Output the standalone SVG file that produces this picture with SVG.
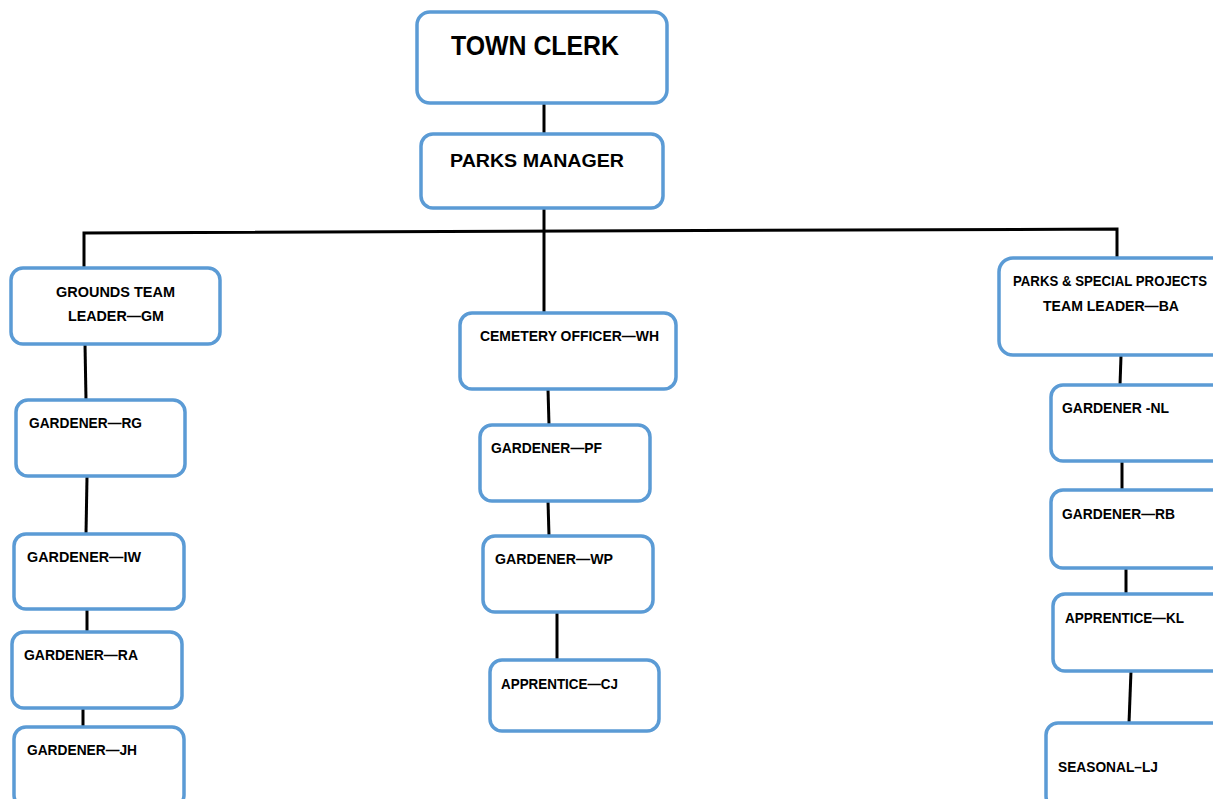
<svg xmlns="http://www.w3.org/2000/svg" width="1213" height="799" viewBox="0 0 1213 799">
<style>
.box{fill:#fff;stroke:#5b9bd5;stroke-width:3.5}
.t{font-family:"Liberation Sans",Arial,sans-serif;font-weight:bold;fill:#000;font-size:15px}
.c{stroke:#000;stroke-width:3;fill:none}
</style>
<rect width="1213" height="799" fill="#fff"/>
<g id="connectors">
<line class="c" x1="544" y1="104" x2="544" y2="134"/>
<line class="c" x1="544" y1="209" x2="544" y2="313"/>
<polyline class="c" points="84,268 84,233 1117,229 1117,258"/>
<line class="c" x1="85" y1="344" x2="86" y2="400"/>
<line class="c" x1="87" y1="477" x2="86" y2="534"/>
<line class="c" x1="87" y1="609" x2="87" y2="632"/>
<line class="c" x1="83" y1="708" x2="83" y2="727"/>
<line class="c" x1="548" y1="389" x2="549" y2="425"/>
<line class="c" x1="548" y1="501" x2="549" y2="536"/>
<line class="c" x1="557" y1="612" x2="557" y2="660"/>
<line class="c" x1="1121" y1="356" x2="1120" y2="385"/>
<line class="c" x1="1122" y1="462" x2="1122" y2="490"/>
<line class="c" x1="1126" y1="568" x2="1126" y2="594"/>
<line class="c" x1="1131" y1="671" x2="1129" y2="723"/>
</g>
<g id="town-clerk"><rect class="box" x="417" y="12" width="250" height="91" rx="13"/>
<text class="t" x="451" y="55" style="font-size:27px" textLength="168" lengthAdjust="spacingAndGlyphs">TOWN CLERK</text></g>
<g id="parks-manager"><rect class="box" x="421" y="134" width="242" height="74" rx="12"/>
<text class="t" x="450" y="167" style="font-size:19px" textLength="174" lengthAdjust="spacingAndGlyphs">PARKS MANAGER</text></g>
<g id="grounds-team-leader"><rect class="box" x="11" y="268" width="209" height="76" rx="12"/>
<text class="t" x="56" y="297" textLength="119" lengthAdjust="spacingAndGlyphs">GROUNDS TEAM</text>
<text class="t" x="68" y="321" textLength="96" lengthAdjust="spacingAndGlyphs">LEADER—GM</text></g>
<g id="gardener-rg"><rect class="box" x="16" y="400" width="169" height="76" rx="12"/>
<text class="t" x="29" y="428" textLength="113" lengthAdjust="spacingAndGlyphs">GARDENER—RG</text></g>
<g id="gardener-iw"><rect class="box" x="14" y="534" width="170" height="75" rx="12"/>
<text class="t" x="27" y="562" textLength="114" lengthAdjust="spacingAndGlyphs">GARDENER—IW</text></g>
<g id="gardener-ra"><rect class="box" x="12" y="632" width="170" height="76" rx="12"/>
<text class="t" x="24" y="660" textLength="114" lengthAdjust="spacingAndGlyphs">GARDENER—RA</text></g>
<g id="gardener-jh"><rect class="box" x="14" y="727" width="170" height="80" rx="12"/>
<text class="t" x="27" y="755" textLength="110" lengthAdjust="spacingAndGlyphs">GARDENER—JH</text></g>
<g id="cemetery-officer"><rect class="box" x="460" y="313" width="216" height="76" rx="12"/>
<text class="t" x="480" y="341" textLength="179" lengthAdjust="spacingAndGlyphs">CEMETERY OFFICER—WH</text></g>
<g id="gardener-pf"><rect class="box" x="480" y="425" width="170" height="76" rx="12"/>
<text class="t" x="491" y="453" textLength="111" lengthAdjust="spacingAndGlyphs">GARDENER—PF</text></g>
<g id="gardener-wp"><rect class="box" x="483" y="536" width="170" height="76" rx="12"/>
<text class="t" x="495" y="564" textLength="118" lengthAdjust="spacingAndGlyphs">GARDENER—WP</text></g>
<g id="apprentice-cj"><rect class="box" x="490" y="660" width="169" height="71" rx="12"/>
<text class="t" x="501" y="689" textLength="117" lengthAdjust="spacingAndGlyphs">APPRENTICE—CJ</text></g>
<g id="parks-special-projects-leader"><rect class="box" x="999" y="258" width="230" height="97" rx="14"/>
<text class="t" x="1013" y="286" textLength="194" lengthAdjust="spacingAndGlyphs">PARKS &amp; SPECIAL PROJECTS</text>
<text class="t" x="1043" y="311" textLength="136" lengthAdjust="spacingAndGlyphs">TEAM LEADER—BA</text></g>
<g id="gardener-nl"><rect class="box" x="1051" y="385" width="180" height="76" rx="12"/>
<text class="t" x="1062" y="413" textLength="107" lengthAdjust="spacingAndGlyphs">GARDENER -NL</text></g>
<g id="gardener-rb"><rect class="box" x="1051" y="490" width="180" height="78" rx="12"/>
<text class="t" x="1062" y="519" textLength="113" lengthAdjust="spacingAndGlyphs">GARDENER—RB</text></g>
<g id="apprentice-kl"><rect class="box" x="1053" y="594" width="180" height="77" rx="12"/>
<text class="t" x="1065" y="623" textLength="119" lengthAdjust="spacingAndGlyphs">APPRENTICE—KL</text></g>
<g id="seasonal-lj"><rect class="box" x="1046" y="723" width="185" height="85" rx="12"/>
<text class="t" x="1058" y="772" textLength="100" lengthAdjust="spacingAndGlyphs">SEASONAL–LJ</text></g>
</svg>
